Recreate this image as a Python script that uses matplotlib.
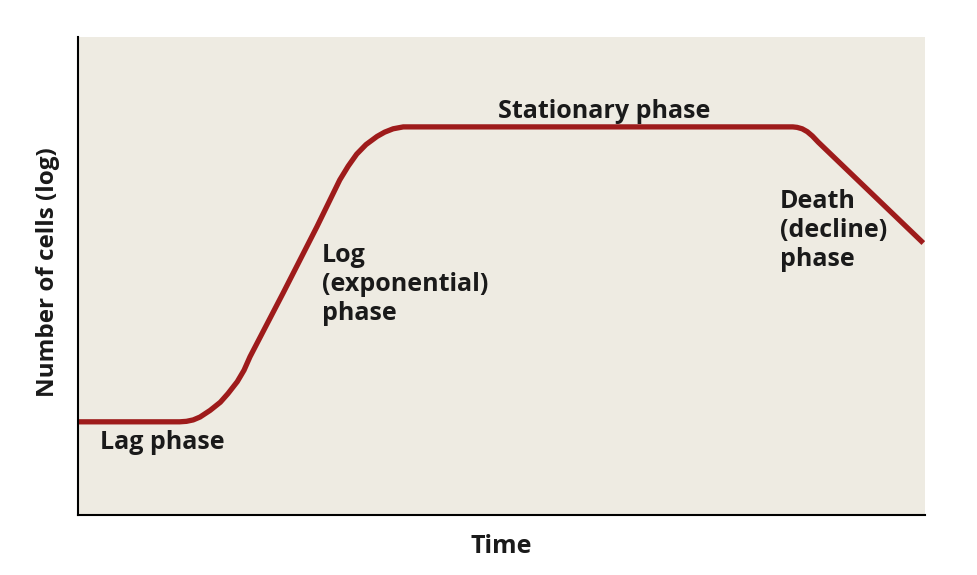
import matplotlib.pyplot as plt

# curve (time, log number of cells), arbitrary 0-100 units
tempo = [0, 12.0, 12.8, 13.6, 14.4, 15.6, 16.8, 17.7, 18.8, 19.6, 20.3, 24.2, 28.2, 30.9,
         31.9, 32.9, 34.0, 35.3, 36.2, 37.2, 38.4, 84.4, 84.9, 85.5, 86.1, 86.7, 87.4, 99.8]
celulas = [19.5, 19.5, 19.6, 19.9, 20.5, 21.9, 23.6, 25.4, 27.9, 30.3, 33.1, 46.4, 60.3, 70.1,
           73.0, 75.5, 77.5, 79.2, 80.1, 80.8, 81.2, 81.2, 81.1, 80.8, 80.2, 79.3, 78.0, 56.9]

fases = ['Lag phase', 'Log\n(exponential)\nphase', 'Stationary phase',
         'Death\n(decline)\nphase']
fases_x = [2.6, 28.8, 49.6, 82.9]
fases_y = [13.8, 57.0, 83.1, 68.3]
fases_va = ['baseline', 'top', 'baseline', 'top']

plt.rcParams['font.family'] = ['Open Sans', 'DejaVu Sans']

fig = plt.figure(figsize=(9.78, 5.75), dpi=100)
ax = fig.add_axes([0.0798, 0.1043, 0.866, 0.8313])
ax.set_facecolor('#eeebe2')

ax.plot(tempo, celulas, color='#9e1b1b', linewidth=3.8,
        solid_capstyle='butt', solid_joinstyle='round')

for txt, x, y, va in zip(fases, fases_x, fases_y, fases_va):
    ax.text(x, y, txt, fontsize=18, fontweight='bold', color='#1a1a1a',
            ha='left', va=va, linespacing=1.22)

ax.set_xlim(0, 100)
ax.set_ylim(0, 100)
ax.set_xticks([])
ax.set_yticks([])
ax.spines['top'].set_visible(False)
ax.spines['right'].set_visible(False)
ax.spines['left'].set_linewidth(1.5)
ax.spines['bottom'].set_linewidth(1.5)

fig.text(0.513, 0.049, 'Time', fontsize=18, fontweight='bold',
         color='#1a1a1a', ha='center', va='center')
fig.text(0.049, 0.526, 'Number of cells (log)', fontsize=17.5, fontweight='bold',
         color='#1a1a1a', ha='center', va='center', rotation=90)

fig.savefig('out.png', dpi=100)
